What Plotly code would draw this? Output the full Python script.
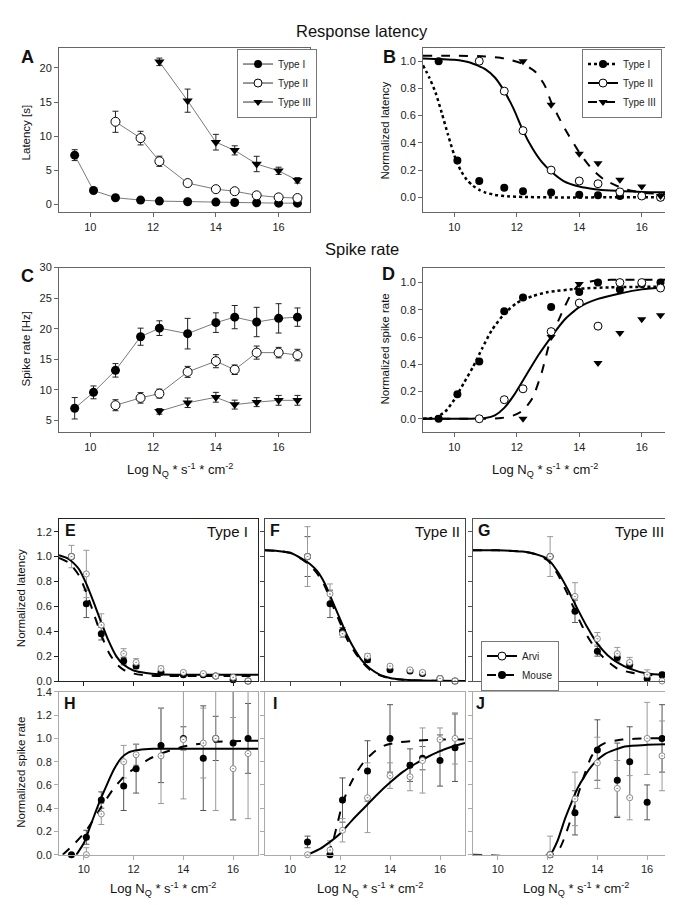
import plotly.graph_objects as go

W, H = 673, 905
FONT = "Liberation Sans, Arial, sans-serif"

# ---------------- data ----------------
x_top = [9.5, 10.1, 10.8, 11.6, 12.2, 13.1, 14.0, 14.6, 15.3, 16.0, 16.6]
x_bot = [9.5, 10.1, 10.7, 11.6, 12.1, 13.1, 14.0, 14.8, 15.3, 16.0, 16.6]
x_ticks = [10, 12, 14, 16]

# A: latency [s]
lat_t1 = [7.2, 2.0, 0.95, 0.6, 0.45, 0.35, 0.3, 0.25, 0.2, 0.15, 0.15]
lat_t1_err = [0.8, 0.15, 0.1, 0.1, 0.05, 0.05, 0.05, 0.05, 0.05, 0.05, 0.05]
lat_t2 = [12.1, 9.7, 6.3, 3.1, 2.2, 1.9, 1.3, 1.0, 0.9]
lat_t2_err = [1.55, 1.0, 0.75, 0.2, 0.2, 0.15, 0.15, 0.1, 0.1]
lat_t3 = [20.9, 15.2, 9.1, 7.9, 5.9, 4.9, 3.5]
lat_t3_err = [0.55, 1.7, 1.15, 0.67, 1.13, 0.53, 0.4]

# B: normalized latency
nlat_t1 = [1.0, 0.27, 0.12, 0.07, 0.045, 0.035, 0.02, 0.015, 0.01, 0.01, 0.0]
nlat_t2 = [1.0, 0.78, 0.49, 0.20, 0.12, 0.10, 0.04, 0.01, 0.0]
nlat_t3 = [1.0, 0.68, 0.32, 0.25, 0.13, 0.08, 0.01]
fitB_x1 = [9.0, 9.2, 9.4, 9.6, 9.8, 10.0, 10.2, 10.4, 10.6, 10.8, 11.0, 11.3, 11.7, 12.2, 13.0, 15.0, 17.0]
fitB_y1 = [0.97, 0.88, 0.77, 0.62, 0.46, 0.31, 0.20, 0.13, 0.085, 0.055, 0.035, 0.018, 0.008, 0.003, 0.0, 0.0, 0.0]
fitB_x2 = [9.0, 10.0, 10.5, 11.0, 11.3, 11.6, 11.9, 12.2, 12.5, 12.8, 13.1, 13.5, 14.0, 14.5, 15.0, 16.0, 17.0]
fitB_y2 = [1.02, 1.01, 0.99, 0.94, 0.88, 0.78, 0.65, 0.49, 0.36, 0.26, 0.19, 0.12, 0.08, 0.06, 0.05, 0.04, 0.036]
fitB_x3 = [9.0, 10.0, 11.0, 11.6, 12.2, 12.6, 12.9, 13.1, 13.5, 14.0, 14.4, 14.8, 15.4, 16.0, 17.0]
fitB_y3 = [1.04, 1.04, 1.035, 1.02, 0.98, 0.92, 0.82, 0.70, 0.52, 0.33, 0.21, 0.13, 0.065, 0.035, 0.02]

# C: spike rate [Hz]
sr_t1 = [7.0, 9.6, 13.2, 18.7, 20.1, 19.2, 21.0, 21.9, 21.1, 21.7, 21.9]
sr_t1_err = [1.75, 1.05, 1.1, 1.4, 1.2, 2.5, 1.6, 1.9, 2.4, 2.4, 1.5]
sr_t2 = [7.5, 8.7, 9.4, 12.95, 14.7, 13.3, 16.1, 16.1, 15.7]
sr_t2_err = [0.9, 0.86, 0.73, 0.9, 1.07, 0.78, 1.07, 0.86, 0.94]
sr_t3 = [6.5, 7.9, 8.8, 7.6, 8.0, 8.3, 8.3]
sr_t3_err = [0.46, 0.78, 0.8, 0.73, 0.73, 0.8, 0.8]

# D: normalized spike rate
nsr_t1 = [0.0, 0.18, 0.42, 0.79, 0.89, 0.82, 0.93, 1.0, 0.95, 0.99, 1.0]
nsr_t2 = [0.0, 0.14, 0.22, 0.64, 0.85, 0.68, 1.0, 1.0, 0.96]
nsr_t3 = [0.0, 0.60, 0.99, 0.41, 0.63, 0.73, 0.76]
fitD_x1 = [9.0, 9.4, 9.7, 10.0, 10.3, 10.6, 10.9, 11.2, 11.6, 12.0, 12.5, 13.0, 14.0, 15.0, 17.0]
fitD_y1 = [0.0, 0.01, 0.05, 0.14, 0.26, 0.38, 0.52, 0.65, 0.77, 0.85, 0.90, 0.93, 0.955, 0.965, 0.97]
fitD_x2 = [9.0, 10.5, 11.0, 11.3, 11.6, 11.9, 12.3, 12.7, 13.1, 13.5, 14.0, 14.6, 15.3, 16.0, 17.0]
fitD_y2 = [0.0, 0.0, 0.005, 0.025, 0.08, 0.17, 0.32, 0.47, 0.60, 0.72, 0.82, 0.88, 0.92, 0.95, 0.97]
fitD_x3 = [9.0, 11.0, 11.5, 11.9, 12.2, 12.5, 12.8, 13.1, 13.35, 13.55, 13.75, 14.0, 14.4, 15.0, 17.0]
fitD_y3 = [0.0, 0.0, 0.005, 0.025, 0.06, 0.15, 0.34, 0.60, 0.73, 0.83, 0.92, 0.985, 1.01, 1.02, 1.02]

# E: Type I normalized latency (Arvi / Mouse)
E_arvi = [1.0, 0.86, 0.45, 0.22, 0.15, 0.10, 0.07, 0.06, 0.04, 0.03, 0.0]
E_arvi_err = [0.09, 0.19, 0.09, 0.04, 0.03, 0.02, 0.01, 0.01, 0.01, 0.01, 0.01]
E_mouse = [1.0, 0.62, 0.38, 0.16, 0.12, 0.07, 0.05, 0.05, 0.04, 0.01, 0.0]
E_mouse_err = [0.0, 0.11, 0.05, 0.03, 0.02, 0.01, 0.01, 0.01, 0.01, 0.01, 0.0]
fitE_x = [9.0, 9.4, 9.8, 10.1, 10.4, 10.7, 11.0, 11.3, 11.6, 12.0, 12.5, 13.0, 14.0, 17.0]
fitE_arvi = [1.01, 0.98, 0.90, 0.78, 0.63, 0.47, 0.32, 0.20, 0.13, 0.085, 0.065, 0.055, 0.05, 0.05]
fitE_mouse = [0.99, 0.95, 0.85, 0.71, 0.54, 0.37, 0.23, 0.14, 0.09, 0.06, 0.045, 0.04, 0.04, 0.04]

# F: Type II normalized latency
F_arvi = [1.0, 0.70, 0.38, 0.20, 0.12, 0.09, 0.07, 0.02, 0.0]
F_arvi_err = [0.24, 0.08, 0.03, 0.02, 0.01, 0.01, 0.01, 0.01, 0.01]
F_mouse = [1.0, 0.62, 0.40, 0.17, 0.09, 0.08, 0.06, 0.02, 0.0]
F_mouse_err = [0.16, 0.11, 0.03, 0.02, 0.01, 0.01, 0.01, 0.01, 0.0]
fitF_x = [9.0, 9.5, 10.0, 10.5, 10.8, 11.1, 11.4, 11.7, 12.0, 12.3, 12.6, 12.9, 13.2, 13.6, 14.0, 14.5, 15.0, 16.0, 17.0]
fitF_arvi = [1.05, 1.045, 1.03, 0.98, 0.94, 0.88, 0.78, 0.64, 0.50, 0.36, 0.25, 0.16, 0.10, 0.05, 0.025, 0.012, 0.006, 0.002, 0.0]
fitF_mouse = [1.05, 1.045, 1.03, 0.975, 0.93, 0.86, 0.76, 0.61, 0.47, 0.33, 0.23, 0.15, 0.09, 0.045, 0.022, 0.01, 0.005, 0.002, 0.0]

# G: Type III normalized latency
G_arvi = [1.0, 0.68, 0.34, 0.22, 0.15, 0.05, 0.0]
G_arvi_err = [0.16, 0.11, 0.05, 0.05, 0.04, 0.04, 0.01]
G_mouse = [1.0, 0.56, 0.24, 0.19, 0.13, 0.02, 0.05]
G_mouse_err = [0.0, 0.09, 0.04, 0.03, 0.03, 0.02, 0.02]
fitG_x = [9.0, 10.0, 11.0, 11.5, 12.0, 12.4, 12.8, 13.2, 13.6, 14.0, 14.4, 14.8, 15.3, 16.0, 17.0]
fitG_arvi = [1.05, 1.05, 1.04, 1.02, 0.98, 0.88, 0.74, 0.58, 0.43, 0.30, 0.21, 0.15, 0.10, 0.06, 0.045]
fitG_mouse = [1.05, 1.05, 1.04, 1.02, 0.97, 0.86, 0.70, 0.52, 0.36, 0.24, 0.16, 0.10, 0.07, 0.05, 0.04]

# H: Type I normalized spike rate
H_arvi = [None, 0.0, 0.35, 0.80, 0.86, 0.85, 0.99, 0.96, 1.0, 0.74, 0.87]
H_arvi_err = [None, 0.06, 0.09, 0.14, 0.09, 0.41, 0.51, 0.30, 0.62, 0.44, 0.56]
H_mouse = [0.0, 0.15, 0.47, 0.59, 0.74, 0.94, 1.0, 0.83, 1.0, 0.96, 1.0]
H_mouse_err = [0.0, 0.06, 0.07, 0.21, 0.21, 0.32, 0.10, 0.45, 0.19, 0.66, 0.30]
fitH_x_arvi = [9.7, 10.0, 10.3, 10.6, 10.9, 11.2, 11.5, 11.8, 12.2, 12.8, 14.0, 17.0]
fitH_arvi = [0.0, 0.10, 0.27, 0.44, 0.59, 0.73, 0.83, 0.88, 0.90, 0.91, 0.91, 0.91]
fitH_x_mouse = [9.15, 9.6, 10.1, 10.7, 11.2, 11.7, 12.1, 12.6, 13.1, 14.0, 15.2, 17.0]
fitH_mouse = [0.0, 0.09, 0.21, 0.41, 0.57, 0.69, 0.75, 0.82, 0.87, 0.93, 0.97, 0.98]

# I: Type II normalized spike rate
I_arvi = [0.0, 0.04, 0.21, 0.49, 0.68, 0.67, 0.81, 0.99, 1.0]
I_arvi_err = [0.0, 0.08, 0.10, 0.30, 0.11, 0.12, 0.28, 0.10, 0.22]
I_mouse = [0.11, 0.0, 0.47, 0.72, 1.0, 0.77, 0.83, 0.81, 0.92]
I_mouse_err = [0.05, 0.0, 0.19, 0.26, 0.29, 0.14, 0.10, 0.22, 0.29]
fitI_x_arvi = [10.7, 11.2, 11.6, 12.0, 12.5, 13.0, 13.5, 14.0, 14.5, 15.0, 15.5, 16.0, 16.5, 17.0]
fitI_arvi = [0.0, 0.05, 0.11, 0.18, 0.30, 0.41, 0.52, 0.62, 0.71, 0.78, 0.84, 0.89, 0.93, 0.96]
fitI_x_mouse = [11.5, 11.7, 11.9, 12.1, 12.4, 12.7, 13.0, 13.4, 13.8, 14.3, 15.0, 16.0, 17.0]
fitI_mouse = [0.0, 0.10, 0.27, 0.44, 0.60, 0.72, 0.81, 0.89, 0.94, 0.965, 0.98, 0.99, 0.99]

# J: Type III normalized spike rate
J_arvi = [0.0, 0.48, 0.79, 0.57, 0.49, 1.0, 0.85]
J_arvi_err = [0.16, 0.23, 0.22, 0.24, 0.19, 0.31, 0.30]
J_mouse = [0.0, 0.36, 0.90, 0.64, 0.80, 0.45, 1.0]
J_mouse_err = [0.0, 0.19, 0.26, 0.32, 0.30, 0.15, 0.29]
fitJ_x_arvi = [12.0, 12.1, 12.4, 12.7, 13.0, 13.2, 13.5, 13.8, 14.3, 15.1, 16.0, 17.0]
fitJ_arvi = [0.0, 0.0, 0.12, 0.31, 0.47, 0.57, 0.68, 0.77, 0.865, 0.93, 0.945, 0.95]
fitJ_x_mouse = [9.0, 12.2, 12.5, 12.7, 13.0, 13.2, 13.5, 13.75, 14.0, 14.3, 15.0, 16.0, 17.0]
fitJ_mouse = [0.0, 0.0, 0.06, 0.16, 0.35, 0.50, 0.70, 0.84, 0.92, 0.96, 0.99, 1.0, 1.0]

# ---------------- layout helpers ----------------
# panel boxes in pixels: (left, right, top, bottom)
boxes = {
    1: (51, 302, 34, 201),   # A
    2: (415, 665, 34, 201),  # B
    3: (51, 302, 257, 424),  # C
    4: (415, 665, 257, 424), # D
    5: (51, 250, 512, 676),  # E
    6: (257, 457, 512, 676), # F
    7: (465, 664, 512, 676), # G
    8: (51, 250, 687, 852),  # H
    9: (257, 457, 687, 852), # I
    10: (465, 664, 687, 852),# J
}

fig = go.Figure()


def axn(n, c):
    return c if n == 1 else f"{c}{n}"


def add(n, trace):
    trace.update(xaxis=axn(n, "x"), yaxis=axn(n, "y"))
    fig.add_trace(trace)


def line_trace(x, y, dash, width=2):
    return go.Scatter(x=x, y=y, mode="lines", showlegend=False, hoverinfo="skip",
                      line=dict(color="black", width=width, dash=dash, shape="spline", smoothing=0.6))


def err_trace(x, y, err, color):
    return go.Scatter(x=x, y=y, mode="markers", showlegend=False, hoverinfo="skip",
                      marker=dict(size=1, opacity=0),
                      error_y=dict(type="data", array=err, color=color, thickness=1, width=3))


M_T1 = dict(symbol="circle", size=9, color="black")
M_T2 = dict(symbol="circle", size=9, color="white", line=dict(color="black", width=1))
M_T3 = dict(symbol="triangle-down", size=9, color="black")
M_ARVI = dict(symbol="circle-dot", size=6, color="white", line=dict(color="#8a8a8a", width=1))
M_MOUSE = dict(symbol="circle", size=7, color="black")

# ---------------- Panel A ----------------
for xs, ys, es in [(x_top, lat_t1, lat_t1_err), (x_top[2:], lat_t2, lat_t2_err), (x_top[4:], lat_t3, lat_t3_err)]:
    add(1, err_trace(xs, ys, es, "#222"))
for xs, ys, m in [(x_top, lat_t1, M_T1), (x_top[2:], lat_t2, M_T2), (x_top[4:], lat_t3, M_T3)]:
    add(1, go.Scatter(x=xs, y=ys, mode="lines+markers", showlegend=False, cliponaxis=False,
                      line=dict(color="#7a7a7a", width=1), marker=m))
for name, m in [("Type I", M_T1), ("Type II", M_T2), ("Type III", M_T3)]:
    add(1, go.Scatter(x=[None], y=[None], mode="lines+markers", name=name, legend="legend",
                      line=dict(color="#333", width=1), marker=dict(m, size=8)))

# ---------------- Panel B ----------------
add(2, line_trace(fitB_x1, fitB_y1, "dot", 2.5))
add(2, line_trace(fitB_x2, fitB_y2, "solid", 2))
add(2, line_trace(fitB_x3, fitB_y3, "dash", 2))
add(2, go.Scatter(x=x_top, y=nlat_t1, mode="markers", marker=dict(M_T1, size=8), showlegend=False, cliponaxis=False))
add(2, go.Scatter(x=x_top[2:], y=nlat_t2, mode="markers", marker=dict(M_T2, size=8), showlegend=False, cliponaxis=False))
add(2, go.Scatter(x=x_top[4:], y=nlat_t3, mode="markers", marker=dict(M_T3, size=8), showlegend=False, cliponaxis=False))
for name, m, d, wdt in [("Type I", M_T1, "dot", 2.5), ("Type II", M_T2, "solid", 2), ("Type III", M_T3, "dash", 2)]:
    add(2, go.Scatter(x=[None], y=[None], mode="lines+markers", name=name, legend="legend2",
                      line=dict(color="black", width=wdt, dash=d), marker=dict(m, size=8)))

# ---------------- Panel C ----------------
for xs, ys, es in [(x_top, sr_t1, sr_t1_err), (x_top[2:], sr_t2, sr_t2_err), (x_top[4:], sr_t3, sr_t3_err)]:
    add(3, err_trace(xs, ys, es, "#222"))
for xs, ys, m in [(x_top, sr_t1, M_T1), (x_top[2:], sr_t2, M_T2), (x_top[4:], sr_t3, M_T3)]:
    add(3, go.Scatter(x=xs, y=ys, mode="lines+markers", showlegend=False, cliponaxis=False,
                      line=dict(color="#7a7a7a", width=1), marker=m))

# ---------------- Panel D ----------------
add(4, line_trace(fitD_x1, fitD_y1, "dot", 2.5))
add(4, line_trace(fitD_x2, fitD_y2, "solid", 2))
add(4, line_trace(fitD_x3, fitD_y3, "dash", 2))
add(4, go.Scatter(x=x_top, y=nsr_t1, mode="markers", marker=dict(M_T1, size=8), showlegend=False, cliponaxis=False))
add(4, go.Scatter(x=x_top[2:], y=nsr_t2, mode="markers", marker=dict(M_T2, size=8), showlegend=False, cliponaxis=False))
add(4, go.Scatter(x=x_top[4:], y=nsr_t3, mode="markers", marker=dict(M_T3, size=8), showlegend=False, cliponaxis=False))

# ---------------- Panels E-J ----------------
bottom = [
    (5, x_bot, E_arvi, E_arvi_err, E_mouse, E_mouse_err, fitE_x, fitE_arvi, fitE_x, fitE_mouse),
    (6, x_bot[2:], F_arvi, F_arvi_err, F_mouse, F_mouse_err, fitF_x, fitF_arvi, fitF_x, fitF_mouse),
    (7, x_bot[4:], G_arvi, G_arvi_err, G_mouse, G_mouse_err, fitG_x, fitG_arvi, fitG_x, fitG_mouse),
    (8, x_bot, H_arvi, H_arvi_err, H_mouse, H_mouse_err, fitH_x_arvi, fitH_arvi, fitH_x_mouse, fitH_mouse),
    (9, x_bot[2:], I_arvi, I_arvi_err, I_mouse, I_mouse_err, fitI_x_arvi, fitI_arvi, fitI_x_mouse, fitI_mouse),
    (10, x_bot[4:], J_arvi, J_arvi_err, J_mouse, J_mouse_err, fitJ_x_arvi, fitJ_arvi, fitJ_x_mouse, fitJ_mouse),
]
for n, xs, ya, ea, ym, em, fxa, fya, fxm, fym in bottom:
    add(n, err_trace(xs, ym, em, "#555"))
    add(n, err_trace(xs, ya, ea, "#999"))
    add(n, line_trace(fxm, fym, "dash", 2))
    add(n, line_trace(fxa, fya, "solid", 2))
    add(n, go.Scatter(x=xs, y=ym, mode="markers", marker=M_MOUSE, showlegend=False, cliponaxis=False))
    add(n, go.Scatter(x=xs, y=ya, mode="markers", marker=M_ARVI, showlegend=False, cliponaxis=False))

add(7, go.Scatter(x=[None], y=[None], mode="lines+markers", name="Arvi", legend="legend3",
                  line=dict(color="black", width=2), marker=dict(symbol="circle", size=8, color="white",
                                                                  line=dict(color="black", width=1))))
add(7, go.Scatter(x=[None], y=[None], mode="lines+markers", name="Mouse", legend="legend3",
                  line=dict(color="black", width=2, dash="dash"), marker=dict(symbol="circle", size=8, color="black")))

# ---------------- axes ----------------
yspec = {
    1: dict(range=[-1.2, 23], tickvals=[0, 5, 10, 15, 20], labels=True, fmt=None),
    2: dict(range=[-0.11, 1.1], tickvals=[0, 0.2, 0.4, 0.6, 0.8, 1.0], labels=True, fmt=".1f"),
    3: dict(range=[3.06, 30], tickvals=[5, 10, 15, 20, 25, 30], labels=True, fmt=None),
    4: dict(range=[-0.1, 1.11], tickvals=[0, 0.2, 0.4, 0.6, 0.8, 1.0], labels=True, fmt=".1f"),
    5: dict(range=[0, 1.3], tickvals=[0, 0.2, 0.4, 0.6, 0.8, 1.0, 1.2], labels=True, fmt=".1f"),
    6: dict(range=[0, 1.3], tickvals=[0, 0.2, 0.4, 0.6, 0.8, 1.0, 1.2], labels=False, fmt=".1f"),
    7: dict(range=[0, 1.3], tickvals=[0, 0.2, 0.4, 0.6, 0.8, 1.0, 1.2], labels=False, fmt=".1f"),
    8: dict(range=[0, 1.4], tickvals=[0, 0.2, 0.4, 0.6, 0.8, 1.0, 1.2, 1.4], labels=True, fmt=".1f"),
    9: dict(range=[0, 1.4], tickvals=[0, 0.2, 0.4, 0.6, 0.8, 1.0, 1.2, 1.4], labels=False, fmt=".1f"),
    10: dict(range=[0, 1.4], tickvals=[0, 0.2, 0.4, 0.6, 0.8, 1.0, 1.2, 1.4], labels=False, fmt=".1f"),
}
frame_col = {1: "#666", 2: "#666", 3: "#666", 4: "#666", 5: "#222", 6: "#444", 7: "#555",
             8: "#aaa", 9: "#aaa", 10: "#aaa"}
xlabels = {1: True, 2: True, 3: True, 4: True, 5: False, 6: False, 7: False, 8: True, 9: True, 10: True}

layout = {}
for n, (l, r, t, b) in boxes.items():
    col = frame_col[n]
    common = dict(showline=True, mirror=True, linecolor=col, linewidth=1, ticks="outside", ticklen=4,
                  tickcolor=col, tickwidth=1, showgrid=False, zeroline=False,
                  tickfont=dict(size=11, color="#222", family=FONT))
    xa = dict(common, domain=[l / W, r / W], range=[9, 17], tickvals=x_ticks,
              showticklabels=xlabels[n], anchor=axn(n, "y"))
    ys = yspec[n]
    ya = dict(common, domain=[1 - b / H, 1 - t / H], range=ys["range"], tickvals=ys["tickvals"],
              showticklabels=ys["labels"], anchor=axn(n, "x"))
    if ys["fmt"]:
        ya["tickformat"] = ys["fmt"]
    layout["xaxis" if n == 1 else f"xaxis{n}"] = xa
    layout["yaxis" if n == 1 else f"yaxis{n}"] = ya

leg_common = dict(bordercolor="#777", borderwidth=1, bgcolor="white", font=dict(size=10, family=FONT, color="#222"),
                  itemwidth=30, tracegroupgap=0, yanchor="top", xanchor="left")
layout["legend"] = dict(leg_common, x=229 / W, y=1 - 35 / H)
layout["legend2"] = dict(leg_common, x=574 / W, y=1 - 35 / H)
layout["legend3"] = dict(leg_common, x=473 / W, y=1 - 635 / H)

fig.update_layout(width=W, height=H, margin=dict(l=0, r=0, t=0, b=0), autosize=False,
                  paper_bgcolor="white", plot_bgcolor="white", font=dict(family=FONT, color="#111"),
                  **layout)

# ---------------- annotations ----------------
def ann(text, px, py, size, bold=False, xanchor="center", angle=0):
    fig.add_annotation(text=f"<b>{text}</b>" if bold else text, xref="paper", yref="paper",
                       x=px / W, y=1 - py / H, xanchor=xanchor, yanchor="middle", showarrow=False,
                       textangle=angle, font=dict(size=size, family=FONT, color="#111"))


ann("Response latency", 354, 17, 16.5)
ann("Spike rate", 354, 238, 16.5)
for letter, px, py in [("A", 19, 44), ("B", 381, 44), ("C", 19, 266), ("D", 380, 264)]:
    ann(letter, px, py, 18, bold=True)
for letter, px, py in [("E", 62, 523), ("F", 267, 523), ("G", 476, 523),
                       ("H", 62, 699), ("I", 267, 699), ("J", 473, 699)]:
    ann(letter, px, py, 16, bold=True)
ann("Type I", 242, 524, 15, xanchor="right")
ann("Type II", 454, 524, 15, xanchor="right")
ann("Type III", 658, 524, 15, xanchor="right")

ann("Latency [s]", 18, 120, 11.5, angle=-90)
ann("Normalized latency", 377, 118, 11.5, angle=-90)
ann("Spike rate [Hz]", 18, 340, 11.5, angle=-90)
ann("Normalized spike rate", 377, 340, 11.5, angle=-90)
ann("Normalized latency", 13, 592, 11.5, angle=-90)
ann("Normalized spike rate", 13, 769, 11.5, angle=-90)

xt = "Log N<sub>Q</sub> * s<sup>-1</sup> * cm<sup>-2</sup>"
for px, py in [(172, 462), (537, 462), (155, 887), (362, 887), (568, 887)]:
    ann(xt, px, py, 13)

fig.write_html("out.html")
